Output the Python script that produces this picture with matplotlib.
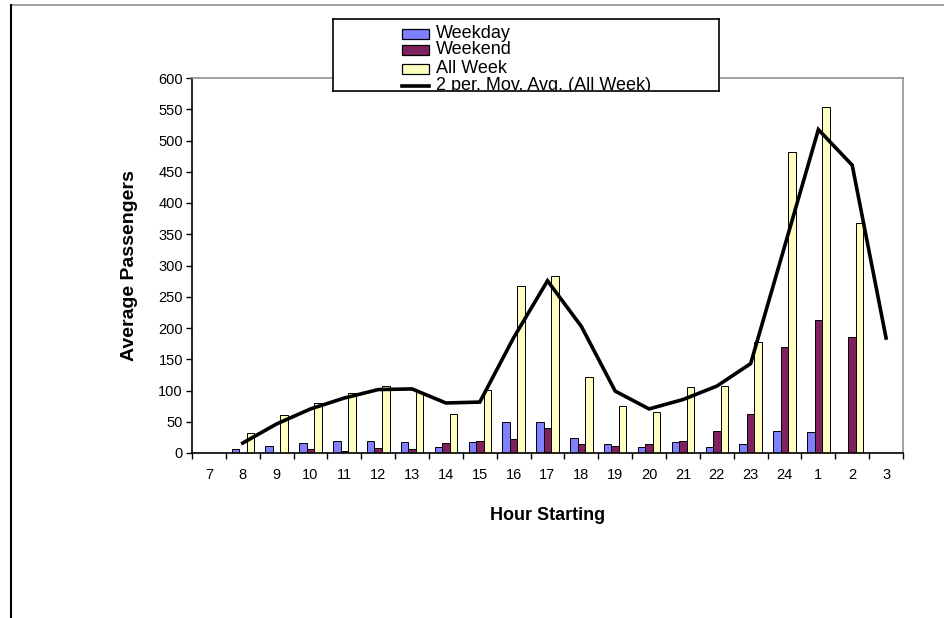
import matplotlib

matplotlib.use("Agg")

import matplotlib.pyplot as plt
import numpy as np
import pandas as pd
from matplotlib.lines import Line2D
from matplotlib.patches import Rectangle

plt.rcParams["font.family"] = ["Liberation Sans", "DejaVu Sans"]

hours = ["7", "8", "9", "10", "11", "12", "13", "14", "15", "16", "17",
         "18", "19", "20", "21", "22", "23", "24", "1", "2", "3"]
weekday = [0, 7, 12, 16, 19, 19, 17, 9, 17, 50, 50,
           24, 14, 9, 17, 10, 14, 36, 33, 0, 0]
weekend = [0, 0, 0, 7, 3, 8, 7, 16, 19, 23, 40,
           14, 12, 14, 19, 35, 62, 170, 213, 185, 0]
all_week = [0, 32, 61, 80, 96, 107, 98, 62, 101, 268, 283,
            122, 76, 65, 106, 108, 178, 482, 553, 368, 0]
series_labels = ["Weekday", "Weekend", "All Week", "2 per. Mov. Avg. (All Week)"]
series_colors = ["#8080FF", "#802060", "#FFFFC0"]

# 2 period moving average of the All Week series, as Excel draws it
moving_avg = pd.Series(all_week, dtype=float).rolling(2).mean().to_numpy()

W, H = 944, 618
fig = plt.figure(figsize=(W / 100, H / 100), dpi=100)

# outer chart frame (top and left edges visible)
fig.add_artist(Line2D([11 / W, 1], [1 - 5 / H, 1 - 5 / H], color="#909090", lw=1.2))
fig.add_artist(Line2D([11 / W, 11 / W], [1 - 5 / H, 0], color="black", lw=1.5))

left, right, top, bottom = 192, 903, 78, 453
ax = fig.add_axes([left / W, 1 - bottom / H, (right - left) / W, (bottom - top) / H])

x = np.arange(len(hours))
width = 1 / 4.5
for offset, values, color in zip([-width, 0, width], [weekday, weekend, all_week], series_colors):
    ax.bar(x + offset, values, width=width, color=color, edgecolor="black", linewidth=0.7, zorder=2)
ax.plot(x, moving_avg, color="black", lw=2.6, zorder=3, solid_joinstyle="miter")

ax.set_xlim(-0.5, len(hours) - 0.5)
ax.set_ylim(0, 600)
ax.set_yticks(np.arange(0, 601, 50))
ax.set_xticks(x)
ax.set_xticklabels(hours)
ax.set_xticks(np.arange(-0.5, len(hours)), minor=True)
ax.tick_params(axis="x", which="major", length=0, pad=11, labelsize=10.5)
ax.tick_params(axis="x", which="minor", length=4, direction="out", width=1)
ax.tick_params(axis="y", length=4, width=1, direction="out", pad=2.5, labelsize=10.5)

for side in ["top", "right"]:
    ax.spines[side].set_color("#909090")
    ax.spines[side].set_linewidth(1.2)
for side in ["left", "bottom"]:
    ax.spines[side].set_color("black")
    ax.spines[side].set_linewidth(1.2)

ax.set_xlabel("Hour Starting", fontsize=13, fontweight="bold", labelpad=18)
ax.set_ylabel("Average Passengers", fontsize=14, fontweight="bold", labelpad=15)

# legend box, clipped at its bottom edge like the original
lx0, lx1, ly0, ly1 = 333, 719, 19, 91
leg = fig.add_axes([lx0 / W, 1 - ly1 / H, (lx1 - lx0) / W, (ly1 - ly0) / H], zorder=5)
leg.set_xlim(0, lx1 - lx0)
leg.set_ylim(ly1 - ly0, 0)
leg.set_xticks([])
leg.set_yticks([])
for spine in leg.spines.values():
    spine.set_color("black")
    spine.set_linewidth(1.2)

row_y = [15, 31, 49.5, 66.7]
for label, color, ry in zip(series_labels[:3], series_colors, row_y[:3]):
    leg.add_patch(Rectangle((69, ry - 5), 27, 10, facecolor=color, edgecolor="black", lw=0.9))
leg.plot([69, 96], [row_y[3], row_y[3]], color="black", lw=2.6, clip_on=True)
for label, ry in zip(series_labels, row_y):
    leg.text(103, ry, label, fontsize=13, va="center", ha="left", clip_on=True)

fig.savefig("out.png", dpi=100)
plt.close(fig)
